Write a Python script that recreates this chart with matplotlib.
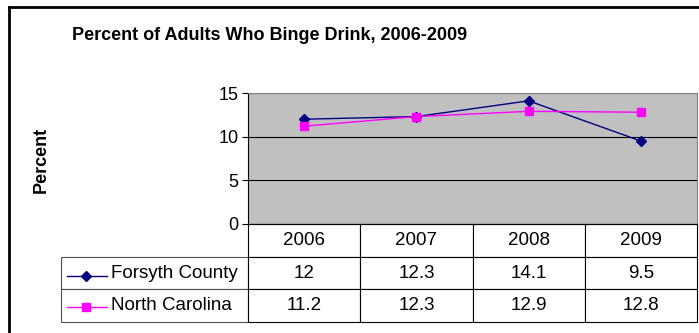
import matplotlib.pyplot as plt
from matplotlib.lines import Line2D

plt.rcParams['font.family'] = ['Liberation Sans', 'DejaVu Sans']

years = ["2006", "2007", "2008", "2009"]
forsyth = [12, 12.3, 14.1, 9.5]
north_carolina = [11.2, 12.3, 12.9, 12.8]
series_names = ["Forsyth County", "North Carolina"]
series_colors = ["#000080", "#FF00FF"]
series_markers = ["D", "s"]

W, H = 699, 333
fig = plt.figure(figsize=(W / 100, H / 100), dpi=100)

# plot area in pixels
left, right, top, bottom = 248, 697, 93, 224
ax = fig.add_axes([left / W, 1 - bottom / H, (right - left) / W, (bottom - top) / H])
ax.set_facecolor("#C0C0C0")

xs = [i + 0.5 for i in range(len(years))]
for vals, name, c, m in zip([forsyth, north_carolina], series_names, series_colors, series_markers):
    ms = 5.5 if m == "D" else 6
    ax.plot(xs, vals, color=c, marker=m, markersize=ms, linewidth=1, label=name)

ax.set_xlim(0, len(years))
ax.set_ylim(0, 15)
ax.set_yticks([0, 5, 10, 15])
ax.yaxis.grid(True, color="black", linewidth=0.8)
ax.set_axisbelow(True)
ax.set_xticks([])
ax.tick_params(axis="y", direction="out", length=4, labelsize=13, pad=3)
for s in ["top", "right"]:
    ax.spines[s].set_color("#808080")
ax.spines["left"].set_color("black")
ax.spines["bottom"].set_color("black")

# data table under the plot
tbl_left, tbl_bottom = 61, 322
cell_text = [[""] + years]
for name, vals in zip(series_names, [forsyth, north_carolina]):
    cell_text.append([name] + [str(v) for v in vals])
col_w = [left - tbl_left] + [(right - left) / len(years)] * len(years)
tot = sum(col_w)
tbl = ax.table(cellText=cell_text, colWidths=[w / tot for w in col_w],
               bbox=[(tbl_left - left) / (right - left), -(tbl_bottom - bottom) / (bottom - top),
                     (right - tbl_left) / (right - left), (tbl_bottom - bottom) / (bottom - top)],
               cellLoc="center")
tbl.auto_set_font_size(False)
for (r, c), cell in tbl.get_celld().items():
    cell.set_fontsize(13.5)
    cell.set_linewidth(0.8)
    if r == 0 and c == 0:
        cell.visible_edges = ""
    if c == 0 and r > 0:
        cell.get_text().set_ha("left")
        cell.PAD = 0.27
        cell.set_edgecolor("#505050")

# legend keys in the table label column
for i, (c, m) in enumerate(zip(series_colors, series_markers)):
    y = 1 - (276 + i * 31) / H
    ms = 5.5 if m == "D" else 6
    fig.add_artist(Line2D([67 / W, 107 / W], [y, y], color=c, linewidth=1))
    fig.add_artist(Line2D([86 / W], [y], color=c, marker=m, markersize=ms))

fig.text(270 / W, 1 - 36 / H, "Percent of Adults Who Binge Drink, 2006-2009",
         ha="center", va="center", fontsize=13, fontweight="bold")
fig.text(41 / W, 1 - 160 / H, "Percent", rotation=90, ha="center", va="center",
         fontsize=13, fontweight="bold")

# outer chart frame (top and left edges visible)
fig.add_artist(Line2D([9 / W, 9 / W], [0, 1 - 7 / H], color="black", linewidth=2))
fig.add_artist(Line2D([9 / W, 1], [1 - 7 / H, 1 - 7 / H], color="black", linewidth=2))

fig.savefig("out.png", dpi=100)
